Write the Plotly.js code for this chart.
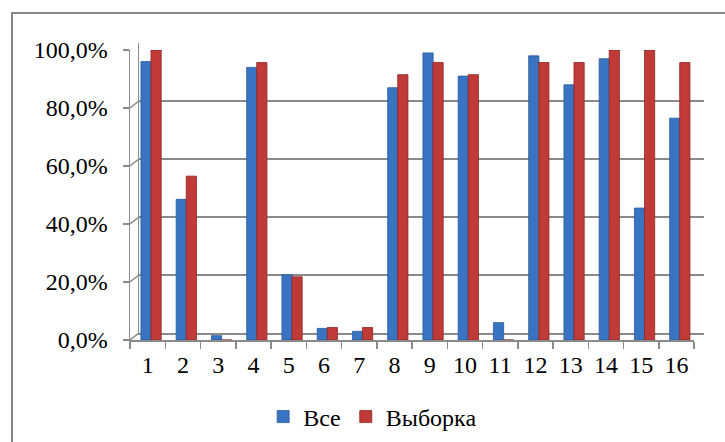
<!DOCTYPE html>
<html>
<head>
<meta charset="utf-8">
<script src="https://cdn.plot.ly/plotly-3.0.1.min.js"></script>
<style>
  html, body { margin: 0; padding: 0; background: #fff; overflow: hidden; }
  #wrap { position: relative; width: 725px; height: 442px; }
  #chart { position: absolute; left: 0; top: 0; width: 725px; height: 442px; }
  #frame { position: absolute; left: 11px; top: 12px; width: 800px; height: 500px;
           border: 2px solid #878787; pointer-events: none; }
</style>
</head>
<body>
<div id="wrap"><div id="chart"></div><div id="frame"></div></div>
<script>
// ---- data ----
const categories = ["1","2","3","4","5","6","7","8","9","10","11","12","13","14","15","16"];
const seriesAll = [96, 48.5, 1.5, 94, 22.5, 4, 3, 87, 99, 91, 6, 98, 88, 97, 45.5, 76.5];      // Все
const seriesSample = [100, 56.5, 0, 95.7, 21.8, 4.3, 4.3, 91.5, 95.7, 91.5, 0, 95.7, 95.7, 100, 100, 95.7]; // Выборка
const seriesNames = ["Все", "Выборка"];
const yTicks = [0, 20, 40, 60, 80, 100];
const yTickLabels = ["0,0%", "20,0%", "40,0%", "60,0%", "80,0%", "100,0%"];

// ---- style ----
const W = 725, H = 442;
const px = v => v / W, py = v => (H - v) / H;
const font = "Liberation Serif, Times New Roman, serif";
const fs = 24;
const gray = "#8a8a8a";
const depthX = 9, depthY = 7;

const traces = [
  { type: "scatter", x: [], y: [], xaxis: "x", yaxis: "y", showlegend: false, hoverinfo: "skip" },
  { type: "bar", name: seriesNames[0], x: categories, y: seriesAll, xaxis: "x2", yaxis: "y2",
    width: 0.29, offset: -0.19,
    marker: { color: "#3874C2", line: { color: "#2A5A9A", width: 0.8 } } },
  { type: "bar", name: seriesNames[1], x: categories, y: seriesSample, xaxis: "x2", yaxis: "y2",
    width: 0.29, offset: 0.095,
    marker: { color: "#C03A37", line: { color: "#8E2624", width: 0.8 } } }
];

const shapes = yTicks.map(t => ({
  type: "line", xref: "x2", yref: "y2", layer: "below",
  xsizemode: "pixel", xanchor: -0.5, x0: 0, x1: depthX,
  ysizemode: "pixel", yanchor: t, y0: 0, y1: depthY,
  line: { color: gray, width: 1.5 }
}));
shapes.push({
  type: "line", xref: "x2", yref: "y2", layer: "below",
  xsizemode: "pixel", xanchor: categories.length - 0.5, x0: 0, x1: depthX,
  ysizemode: "pixel", yanchor: 0, y0: 0, y1: depthY,
  line: { color: gray, width: 1.5 }
});

const layout = {
  width: W, height: H,
  margin: { l: 0, r: 0, t: 0, b: 0 },
  paper_bgcolor: "#ffffff",
  plot_bgcolor: "rgba(0,0,0,0)",
  separators: ", ",
  font: { family: font, size: fs, color: "#000" },
  barmode: "group",
  showlegend: true,
  legend: {
    orientation: "h", x: 0.514, xanchor: "center", y: py(417), yanchor: "middle",
    font: { family: font, size: fs, color: "#000" }, itemwidth: 30, tracegroupgap: 0
  },
  // back wall
  xaxis: {
    domain: [px(130 + depthX), px(694 + depthX + 1)], anchor: "y",
    type: "category", range: [-0.5, categories.length - 0.5],
    showgrid: false, showticklabels: false, ticks: "", zeroline: false,
    showline: true, linecolor: gray, linewidth: 1.5
  },
  yaxis: {
    domain: [py(340) + depthY / H, py(50) + depthY / H], anchor: "x",
    range: [0, 100], tickvals: yTicks,
    showgrid: true, gridcolor: gray, gridwidth: 1.5,
    showticklabels: false, ticks: "", zeroline: false,
    showline: true, linecolor: gray, linewidth: 1.5
  },
  // front
  xaxis2: {
    domain: [px(130), px(694)], anchor: "y2",
    type: "category", range: [-0.5, categories.length - 0.5],
    showgrid: false, zeroline: false,
    showline: true, linecolor: gray, linewidth: 1.5,
    ticks: "outside", tickson: "boundaries", ticklen: 7, tickcolor: gray, tickwidth: 1.5,
    ticklabelstandoff: 3,
    tickfont: { family: font, size: fs, color: "#000" }
  },
  yaxis2: {
    domain: [py(340), py(50)], anchor: "x2",
    range: [0, 100], tickmode: "array", tickvals: yTicks, ticktext: yTickLabels,
    showgrid: false, zeroline: false,
    showline: true, linecolor: gray, linewidth: 1.5,
    ticks: "outside", ticklen: 6, tickcolor: gray, tickwidth: 1.5,
    ticklabelstandoff: 10,
    tickfont: { family: font, size: fs, color: "#000" }
  },
  shapes: shapes
};

Plotly.newPlot("chart", traces, layout, { displayModeBar: false, staticPlot: true });
</script>
</body>
</html>
